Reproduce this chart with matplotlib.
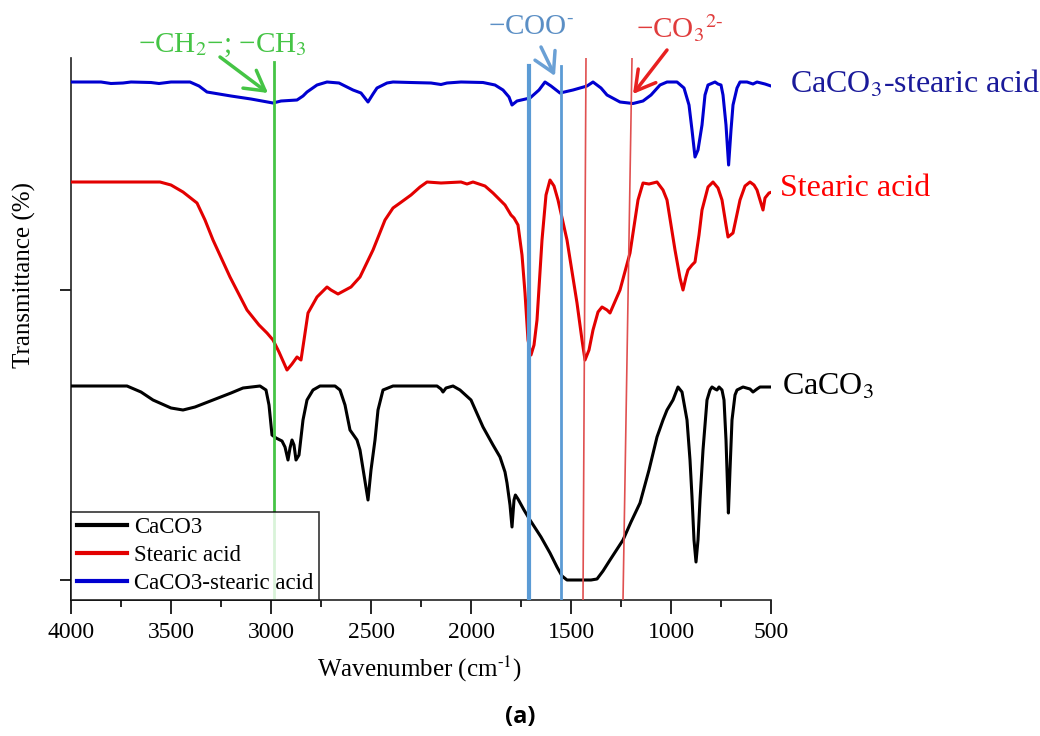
import matplotlib
matplotlib.use("Agg")
import matplotlib.pyplot as plt
from matplotlib.ticker import MultipleLocator

plt.rcParams['font.family'] = ['Liberation Serif', 'DejaVu Serif']
plt.rcParams['mathtext.fontset'] = 'stix'

# spectra (wavenumber, cm-1) and offset transmittance (arb. units)
blue_w = [4000, 3850, 3800, 3740, 3700, 3600, 3560, 3500, 3405, 3360, 3320, 3200, 3100, 2990,
          2950, 2870, 2840, 2820, 2770, 2720, 2660, 2630, 2590, 2550, 2515, 2490, 2470, 2420,
          2390, 2300, 2200, 2150, 2120, 2050, 1940, 1880, 1840, 1810, 1795, 1770, 1705, 1660,
          1630, 1600, 1555, 1490, 1420, 1390, 1350, 1320, 1255, 1190, 1140, 1100, 1055, 1020,
          970, 935, 910, 895, 880, 865, 845, 830, 815, 780, 765, 750, 740, 725, 712, 700, 690,
          670, 655, 620, 590, 570, 530, 500]
blue_t = [518, 518, 516.5, 517, 518, 517.5, 516.5, 518, 518, 514, 508, 504, 501, 497,
          499, 500, 504, 508, 515, 518, 517, 514, 510, 507, 498, 506, 512, 517,
          518, 517.5, 517, 515.5, 517, 518, 517.5, 515, 510, 503, 495, 499, 502, 510,
          518, 514, 507, 510, 514, 518, 512, 505, 498, 496.5, 499, 505, 515, 518,
          518, 512, 495, 470, 443, 450, 475, 505, 515, 518, 516, 515, 505, 475, 435, 470, 495,
          512, 518, 518, 516, 518, 516, 514]

red_w = [4000, 3555, 3500, 3440, 3370, 3330, 3290, 3205, 3120, 3060, 3020, 2990, 2960, 2920,
         2895, 2870, 2850, 2835, 2815, 2770, 2720, 2700, 2665, 2600, 2555, 2490, 2430, 2390,
         2355, 2300, 2255, 2220, 2150, 2050, 2020, 1990, 1930, 1890, 1830, 1800, 1785, 1765,
         1745, 1730, 1715, 1700, 1685, 1670, 1645, 1625, 1605, 1585, 1565, 1520, 1470, 1445,
         1430, 1410, 1390, 1365, 1345, 1320, 1305, 1255, 1205, 1165, 1140, 1110, 1070, 1040,
         1020, 980, 955, 940, 925, 915, 895, 880, 860, 845, 815, 790, 765, 745, 725, 715, 690,
         655, 630, 605, 585, 570, 540, 530, 510, 495]
red_t = [418, 418, 415, 408, 397, 380, 360, 323, 290, 275, 267, 260, 248, 230,
         236, 243, 240, 260, 287, 303, 313, 310, 306, 313, 323, 350, 380, 392,
         397, 405, 413, 418, 417, 418, 416, 418, 414, 407, 395, 385, 382, 375,
         345, 307, 260, 245, 255, 280, 360, 405, 420, 414, 400, 360, 297, 260,
         240, 250, 270, 288, 293, 290, 287, 310, 347, 400, 417, 416, 418, 410,
         400, 350, 322, 310, 323, 330, 335, 338, 365, 390, 413, 418, 412, 400, 375, 363, 367,
         400, 414, 418, 415, 410, 390, 402, 407, 408]

black_w = [4000, 3720, 3650, 3590, 3500, 3440, 3380, 3290, 3200, 3140, 3055, 3025, 3010, 2995,
           2975, 2945, 2930, 2915, 2905, 2895, 2885, 2875, 2860, 2840, 2820, 2790, 2755, 2680,
           2655, 2630, 2605, 2570, 2555, 2535, 2515, 2500, 2480, 2465, 2440, 2390, 2170, 2150,
           2140, 2125, 2090, 2055, 2000, 1940, 1890, 1855, 1830, 1820, 1805, 1795, 1785, 1778,
           1765, 1735, 1705, 1650, 1605, 1570, 1545, 1520, 1400, 1370, 1340, 1305, 1240, 1200,
           1155, 1110, 1070, 1040, 1020, 990, 965, 945, 920, 905, 895, 885, 875, 865, 855, 840,
           820, 805, 795, 780, 770, 760, 745, 735, 725, 713, 705, 695, 680, 670, 640, 605, 590,
           570, 555, 500]
black_t = [214, 214, 208, 200, 192, 190, 193, 200, 207, 212, 214, 210, 195, 165,
           162, 159, 153, 140, 152, 160, 155, 140, 145, 180, 200, 210, 214, 214,
           210, 195, 170, 160, 150, 125, 100, 130, 160, 190, 210, 214, 214, 211,
           208, 212, 214, 210, 200, 173, 155, 143, 128, 117, 95, 73, 100, 105,
           101, 90, 80, 63, 47, 33, 24, 20, 20, 21, 29, 40, 60, 78,
           97, 130, 163, 180, 190, 200, 213, 208, 180, 140, 103, 60, 38, 60, 100, 150,
           200, 210, 213, 211, 210, 213, 210, 200, 160, 87, 130, 180, 205, 210, 213, 211, 208,
           211, 213, 213]

series_names = ["CaCO3", "Stearic acid", "CaCO3-stearic acid"]
side_labels = ["CaCO$_3$", "Stearic acid", "CaCO$_3$-stearic acid"]

# marker lines: (wavenumber at top, wavenumber at bottom)
ch_line = (2985, 2985)
coo_lines = [(1710, 1710), (1550, 1550)]
co3_lines = [(1425, 1440), (1195, 1240)]

fig = plt.figure(figsize=(10.4, 7.36), dpi=100)
ax = fig.add_axes([0.06827, 0.18478, 0.67308, 0.73641])

ax.plot(black_w, black_t, color="black", lw=2.2, label=series_names[0], zorder=3,
        solid_joinstyle="round")
ax.plot(red_w, red_t, color="#e30000", lw=2.2, label=series_names[1], zorder=3,
        solid_joinstyle="round")
ax.plot(blue_w, blue_t, color="#0000d0", lw=2.2, label=series_names[2], zorder=3,
        solid_joinstyle="round")

# vertical guide lines
ax.plot(ch_line, [538, 0], color="#45c445", lw=2, zorder=4)
ax.plot(coo_lines[0], [534, 0], color="#5b9bd5", lw=3, zorder=4)
ax.plot(coo_lines[1], [534, 0], color="#5b9bd5", lw=2, zorder=4)
for top, bot in co3_lines:
    ax.plot([top, bot], [542, 0], color="#e05050", lw=1.2, zorder=4)

# annotations
arrow = "->,head_length=0.7,head_width=0.4"
ax.text(3245, 555, "−CH$_2$−; −CH$_3$", color="#45c445", fontsize=21,
        ha="center", va="center", clip_on=False)
ax.annotate("", xy=(3015, 507), xytext=(3255, 543), annotation_clip=False,
            arrowprops=dict(arrowstyle=arrow, color="#45c445", lw=2.5,
                            mutation_scale=20, shrinkA=0, shrinkB=0))
ax.text(1700, 573, r"−COO$^{\text{-}}$", color="#5b8fc5", fontsize=21,
        ha="center", va="center", clip_on=False)
ax.annotate("", xy=(1580, 524), xytext=(1650, 553), annotation_clip=False,
            arrowprops=dict(arrowstyle=arrow, color="#6aa0d5", lw=2.5,
                            mutation_scale=20, shrinkA=0, shrinkB=0))
ax.text(955, 572, r"−CO$_3$$^{\text{2-}}$", color="#e03c3c", fontsize=21,
        ha="center", va="center", clip_on=False)
ax.annotate("", xy=(1190, 506), xytext=(1020, 550), annotation_clip=False,
            arrowprops=dict(arrowstyle=arrow, color="#e82020", lw=2.5,
                            mutation_scale=20, shrinkA=0, shrinkB=0))

# labels at the right end of each curve
ax.text(445, 213, side_labels[0], color="black", fontsize=23, va="center", clip_on=False)
ax.text(455, 412, side_labels[1], color="#ff0000", fontsize=23, va="center", clip_on=False)
ax.text(405, 516, side_labels[2], color="#1a1a9a", fontsize=23, va="center", clip_on=False)

ax.set_xlim(4000, 500)
ax.set_ylim(0, 542)
ax.xaxis.set_major_locator(MultipleLocator(500))
ax.xaxis.set_minor_locator(MultipleLocator(250))
ax.tick_params(axis="x", which="major", direction="out", length=10, width=1.2,
               labelsize=17, pad=6)
ax.tick_params(axis="x", which="minor", direction="out", length=5, width=1.2)
ax.set_yticks([20, 310])
ax.set_yticklabels([])
ax.tick_params(axis="y", direction="out", length=8, width=1.2)

for s in ["top", "right"]:
    ax.spines[s].set_visible(False)
for s in ["left", "bottom"]:
    ax.spines[s].set_linewidth(1.2)
    ax.spines[s].set_color("#222222")

ax.set_xlabel(r"Wavenumber (cm$^{\text{-1}}$)", fontsize=18)
ax.set_ylabel("Transmittance (%)", fontsize=18)
ax.xaxis.set_label_coords(0.4986, -0.10)
ax.yaxis.set_label_coords(-0.05, 0.60)

leg = ax.legend(loc="lower left", bbox_to_anchor=(0, 0), borderaxespad=0,
                fontsize=16.5, frameon=True, fancybox=False, handlelength=2.2,
                handletextpad=0.3, labelspacing=0.3, borderpad=0.25)
leg.get_frame().set_edgecolor("black")
leg.get_frame().set_linewidth(1.2)
for line in leg.get_lines():
    line.set_linewidth(3)

fig.text(0.5, 0.026, "(a)", fontsize=17, fontweight="bold", family="Open Sans",
         ha="center", va="center")

fig.savefig("out.png", dpi=100)
